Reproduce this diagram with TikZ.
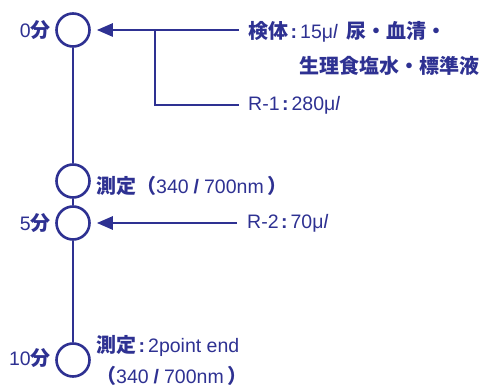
\documentclass[tikz,border=0pt]{standalone}
\usepackage{fontspec}
\setmainfont{Liberation Sans}
\newfontfamily\cjkfont{Noto Sans CJK JP}
\usetikzlibrary{arrows.meta}
\definecolor{navy}{RGB}{46,49,146}
\newcommand{\jp}[1]{{\cjkfont\bfseries\fontsize{20}{24}\selectfont #1}}
\newcommand{\cln}{\hspace{2.5pt}\textbf{:}\hspace{3pt}}
\newcommand{\ul}{μ\textit{l}}
\newcommand{\sls}{\hspace{5pt}\textbf{/}\hspace{5pt}}
\begin{document}
\begin{tikzpicture}[x=1pt,y=-1pt,
  every node/.style={text=navy,inner sep=0pt,font=\fontsize{19.5}{23}\selectfont},
  stage/.style={draw=navy,line width=2.6pt,circle,minimum size=33pt,inner sep=0pt},
  wire/.style={draw=navy,line width=2.6pt},
  feed/.style={wire,-{Triangle[length=16pt,width=13pt]},shorten >=6pt},
  lbl/.style={anchor=west}]
\useasboundingbox (0,0) rectangle (481,387);
% stages
\node[stage] (c0) at (73,30) {};
\node[stage] (c1) at (73,181) {};
\node[stage] (c2) at (73,223) {};
\node[stage] (c3) at (73,360) {};
\draw[wire] (c0) -- (c1);
\draw[wire] (c1) -- (c2);
\draw[wire] (c2) -- (c3);
% feed arrows
\coordinate (a0) at (239,30);
\coordinate (b0) at (155,30);
\coordinate (b1) at (155,105);
\coordinate (r1) at (239,105);
\coordinate (a2) at (237,223);
\draw[feed] (a0) -- (c0);
\draw[wire] (b0) -- (b1) -- (r1);
\draw[feed] (a2) -- (c2);
% time labels
\node[anchor=east] (t0) at (51,30) {0\jp{分}};
\node[anchor=east] (t5) at (51,223) {5\jp{分}};
\node[anchor=east] (t10) at (51,358) {10\jp{分}};
% texts
\node[lbl] (s1) at (248,32) {\jp{検体}\cln 15\ul\hspace{9pt}\jp{尿・血清・}};
\node[lbl] (s2) at (299,66) {\jp{生理食塩水・標準液}};
\node[lbl] (r1t) at (248,105) {R-1\cln 280\ul};
\node[lbl] (m1) at (96,186) {\jp{測定（}340\sls 700nm\hspace{4pt}\jp{）}};
\node[lbl] (r2t) at (247,223) {R-2\cln 70\ul};
\node[lbl] (m2) at (96,346) {\jp{測定}\cln 2point end};
\node[lbl] (m3) at (96,376) {\jp{（}340\sls 700nm\hspace{4pt}\jp{）}};
\end{tikzpicture}
\end{document}
